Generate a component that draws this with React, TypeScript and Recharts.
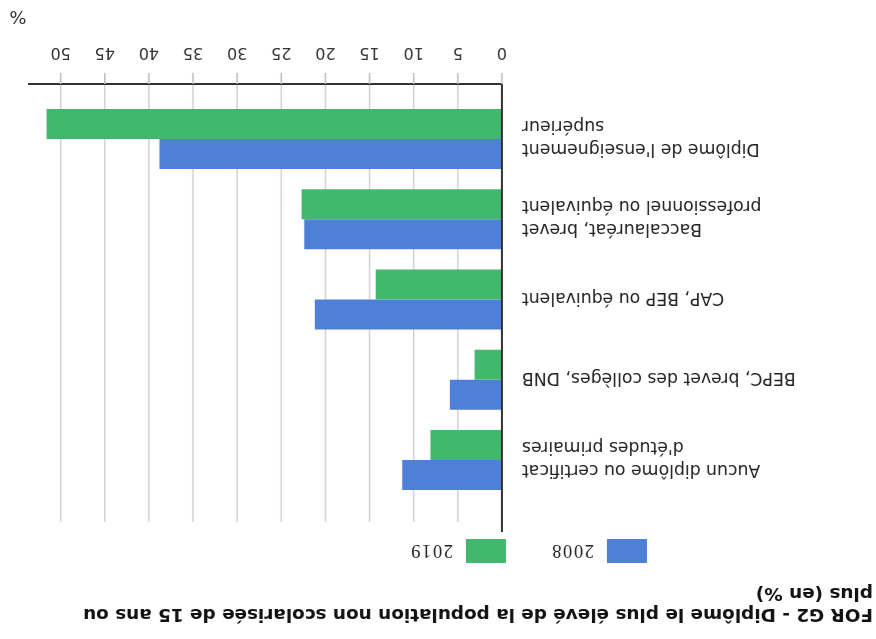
import React from 'react';
import { BarChart, Bar, XAxis, YAxis, CartesianGrid, Legend, Label } from 'recharts';

const categories = [
  "Aucun diplôme ou certificat d'études primaires",
  'BEPC, brevet des collèges, DNB',
  'CAP, BEP ou équivalent',
  'Baccalauréat, brevet professionnel ou équivalent',
  "Diplôme de l'enseignement supérieur",
];
const categoryLines = [
  ['Aucun diplôme ou certificat', "d'études primaires"],
  ['BEPC, brevet des collèges, DNB'],
  ['CAP, BEP ou équivalent'],
  ['Baccalauréat, brevet', 'professionnel ou équivalent'],
  ["Diplôme de l'enseignement", 'supérieur'],
];
const values2008 = [11.3, 5.9, 21.2, 22.4, 38.8];
const values2019 = [8.1, 3.1, 14.3, 22.7, 51.6];
const seriesNames = ['2008', '2019'];
const seriesColors = ['#4d80d6', '#42b86d'];
const valueTicks = [0, 5, 10, 15, 20, 25, 30, 35, 40, 45, 50];
const unitLabel = '%';
const titleLines = [
  'FOR G2 - Diplôme le plus élevé de la population non scolarisée de 15 ans ou',
  'plus (en %)',
];

const data = categories.map((c, i) => ({ category: c, v2008: values2008[i], v2019: values2019[i] }));

const FONT = '"DejaVu Sans", Verdana, sans-serif';

const CatTick = (props: any) => {
  const { x, y, payload } = props;
  const idx = categories.indexOf(payload.value);
  const lines = categoryLines[idx] || [payload.value];
  const lh = 23;
  const start = y - ((lines.length - 1) * lh) / 2;
  return (
    <text textAnchor="end" fontSize={17.3} fill="#222" fontFamily={FONT}>
      {lines.map((l, i) => (
        <tspan key={i} x={x - 12} y={start + i * lh + 6}>
          {l}
        </tspan>
      ))}
    </text>
  );
};

const LegendContent = (props: any) => {
  const { payload } = props;
  return (
    <div style={{ display: 'flex', height: 31, alignItems: 'flex-start', fontFamily: '"Liberation Serif", serif', fontSize: 18.5, color: '#222' }}>
      {(payload || []).map((p: any, i: number) => (
        <div key={i} style={{ display: 'flex', alignItems: 'center', width: i === 0 ? 141 : 100 }}>
          <div style={{ width: 40, height: 24, background: p.color, marginRight: 13 }} />
          <span style={{ letterSpacing: 1.6 }}>{p.value}</span>
        </div>
      ))}
    </div>
  );
};

export default function App() {
  return (
    <div
      style={{
        position: 'fixed',
        left: 0,
        top: 0,
        width: 876,
        height: 639,
        background: '#fff',
        transform: 'rotate(180deg)',
        fontFamily: FONT,
        overflow: 'hidden',
      }}
    >
      <div
        style={{
          position: 'absolute',
          left: 3,
          top: 13,
          fontWeight: 700,
          fontSize: 18.4,
          lineHeight: '21px',
          color: '#111',
          whiteSpace: 'nowrap',
        }}
      >
        {titleLines.map((t, i) => (
          <div key={i}>{t}</div>
        ))}
      </div>
      <div style={{ position: 'absolute', left: 0, top: 0 }}>
        <BarChart
          width={876}
          height={639}
          data={data}
          layout="vertical"
          margin={{ top: 76, right: 28, bottom: 54, left: 0 }}
          barCategoryGap="12%"
          barGap={0}
        >
          <CartesianGrid
            horizontal={false}
            verticalValues={valueTicks}
            stroke="#d2d2d2"
            strokeWidth={1.5}
            y={117}
            height={438}
          />
          <Legend
            verticalAlign="top"
            align="left"
            content={<LegendContent />}
            wrapperStyle={{ left: 229, top: 76, width: 300 }}
          />
          <XAxis
            type="number"
            domain={[0, 53.7]}
            ticks={valueTicks}
            interval={0}
            axisLine={{ stroke: '#333', strokeWidth: 2 }}
            tickLine={{ stroke: '#bdbdbd', strokeWidth: 1.5 }}
            tickSize={11}
            tickMargin={14}
            tick={{ fontSize: 16, fill: '#333', fontFamily: FONT }}
            height={30}
          >
            <Label
              content={(p: any) => {
                const vb = p.viewBox || {};
                return (
                  <text x={vb.x + vb.width + 10} y={vb.y + 73} textAnchor="middle" fontSize={18} fill="#333" fontFamily={FONT}>
                    {unitLabel}
                  </text>
                );
              }}
            />
          </XAxis>
          <YAxis
            type="category"
            dataKey="category"
            width={374}
            axisLine={{ stroke: '#333', strokeWidth: 2 }}
            tickLine={false}
            tick={<CatTick />}
            padding={{ top: 32.4, bottom: 14.4 }}
            interval={0}
          />
          <Bar dataKey="v2008" name={seriesNames[0]} fill={seriesColors[0]} isAnimationActive={false} />
          <Bar dataKey="v2019" name={seriesNames[1]} fill={seriesColors[1]} isAnimationActive={false} />
        </BarChart>
      </div>
    </div>
  );
}
